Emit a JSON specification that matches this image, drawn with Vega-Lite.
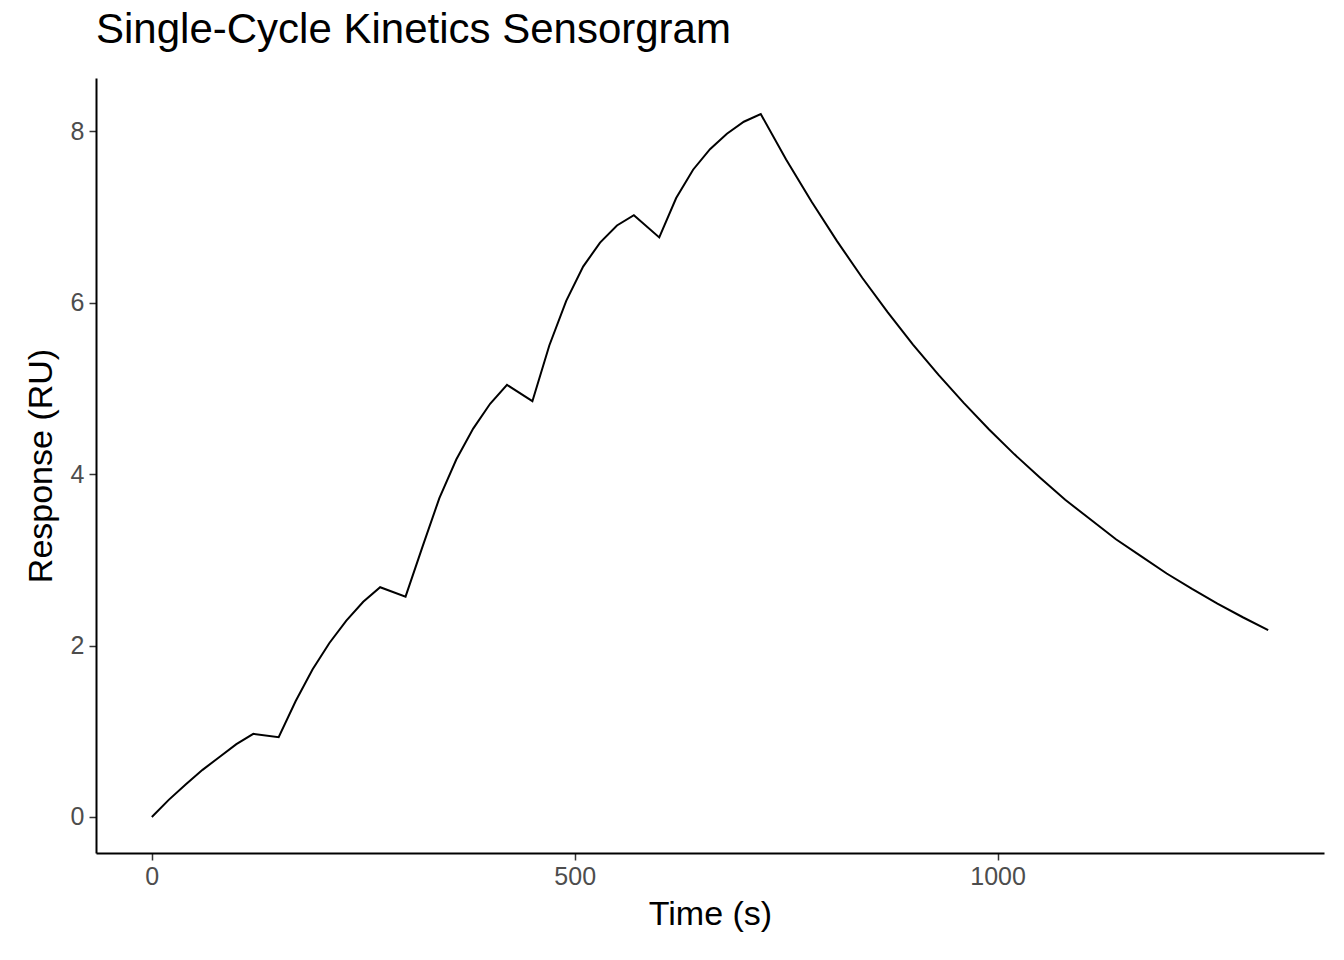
{
  "$schema": "https://vega.github.io/schema/vega-lite/v6.json",
  "width": 1228,
  "height": 775,
  "autosize": {"type": "none"},
  "padding": {"left": 96, "top": 78, "right": 20, "bottom": 107},
  "background": "white",
  "config": {"view": {"stroke": null}, "font": "Liberation Sans"},
  "title": {"text": "Single-Cycle Kinetics Sensorgram", "anchor": "start", "frame": "group", "fontSize": 42, "fontWeight": "normal", "color": "black", "offset": 26},
  "data": {"values": [
    {"t": 0, "r": 0}, {"t": 20, "r": 0.2}, {"t": 40, "r": 0.38}, {"t": 60, "r": 0.55}, {"t": 80, "r": 0.7}, {"t": 100, "r": 0.85}, {"t": 120, "r": 0.97}, {"t": 150, "r": 0.93},
    {"t": 170, "r": 1.35}, {"t": 190, "r": 1.72}, {"t": 210, "r": 2.03}, {"t": 230, "r": 2.29}, {"t": 250, "r": 2.51}, {"t": 270, "r": 2.68}, {"t": 300, "r": 2.57},
    {"t": 320, "r": 3.15}, {"t": 340, "r": 3.72}, {"t": 360, "r": 4.17}, {"t": 380, "r": 4.53}, {"t": 400, "r": 4.82}, {"t": 420, "r": 5.04}, {"t": 450, "r": 4.85},
    {"t": 470, "r": 5.5}, {"t": 490, "r": 6.02}, {"t": 510, "r": 6.42}, {"t": 530, "r": 6.7}, {"t": 550, "r": 6.9}, {"t": 570, "r": 7.02}, {"t": 600, "r": 6.76},
    {"t": 620, "r": 7.22}, {"t": 640, "r": 7.55}, {"t": 660, "r": 7.79}, {"t": 680, "r": 7.97}, {"t": 700, "r": 8.11}, {"t": 720, "r": 8.2},
    {"t": 750, "r": 7.67}, {"t": 780, "r": 7.18}, {"t": 810, "r": 6.72}, {"t": 840, "r": 6.29}, {"t": 870, "r": 5.89}, {"t": 900, "r": 5.51},
    {"t": 930, "r": 5.16}, {"t": 960, "r": 4.83}, {"t": 990, "r": 4.52}, {"t": 1020, "r": 4.23}, {"t": 1050, "r": 3.96}, {"t": 1080, "r": 3.7},
    {"t": 1110, "r": 3.47}, {"t": 1140, "r": 3.24}, {"t": 1170, "r": 3.04}, {"t": 1200, "r": 2.84}, {"t": 1230, "r": 2.66}, {"t": 1260, "r": 2.49},
    {"t": 1290, "r": 2.33}, {"t": 1320, "r": 2.18}
  ]},
  "mark": {"type": "line", "color": "black", "strokeWidth": 2},
  "encoding": {
    "x": {"field": "t", "type": "quantitative", "scale": {"domain": [-66, 1386], "nice": false, "zero": false},
      "axis": {"title": "Time (s)", "values": [0, 500, 1000], "format": "d", "grid": false, "domainColor": "black", "domainWidth": 2, "tickColor": "#333", "tickWidth": 1.5, "tickSize": 7, "labelFontSize": 25, "labelColor": "#4d4d4d", "labelPadding": 4, "titleFontSize": 34, "titleFontWeight": "normal", "titleColor": "black", "titlePadding": 8}},
    "y": {"field": "r", "type": "quantitative", "scale": {"domain": [-0.42, 8.62], "nice": false, "zero": false},
      "axis": {"title": "Response (RU)", "values": [0, 2, 4, 6, 8], "format": "d", "grid": false, "domainColor": "black", "domainWidth": 2, "tickColor": "#333", "tickWidth": 1.5, "tickSize": 7, "labelFontSize": 25, "labelColor": "#4d4d4d", "labelPadding": 5, "titleFontSize": 34, "titleFontWeight": "normal", "titleColor": "black", "titlePadding": 12}}
  }
}
